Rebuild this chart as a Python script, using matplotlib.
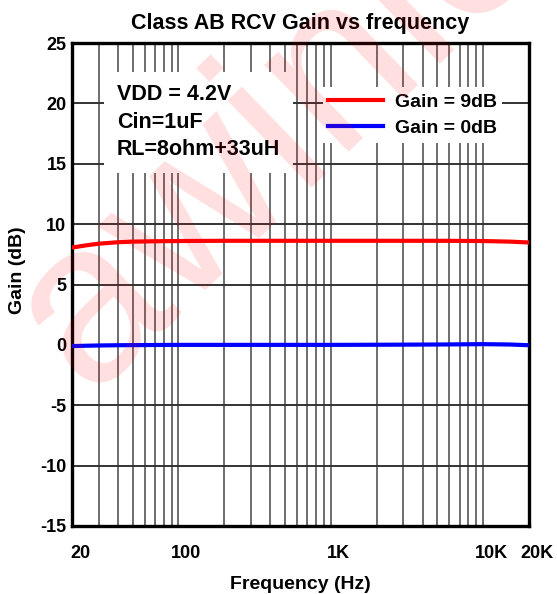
import numpy as np
import matplotlib
matplotlib.use("Agg")
from matplotlib import pyplot as plt
from matplotlib import transforms
from matplotlib.ticker import FixedLocator, LogLocator, NullFormatter

# Data
freq_hz = [20, 25, 30, 40, 50, 70, 100, 200, 500, 1000, 2000, 5000, 10000, 15000, 20000]
gain_9db = [8.06, 8.25, 8.38, 8.50, 8.55, 8.58, 8.60, 8.62, 8.62, 8.62, 8.62, 8.62, 8.60, 8.55, 8.48]
gain_0db = [-0.10, -0.07, -0.05, -0.03, -0.02, -0.01, 0.0, 0.0, 0.0, 0.0, 0.01, 0.03, 0.06, 0.03, -0.03]
x_ticks = [20, 100, 1000, 10000, 20000]
x_tick_labels = ['20', '100', '1K', '10K', '20K']
y_ticks = [-15, -10, -5, 0, 5, 10, 15, 20, 25]
series_labels = ['Gain = 9dB', 'Gain = 0dB']
conditions = "VDD = 4.2V\nCin=1uF\nRL=8ohm+33uH"

plt.rcParams['font.family'] = ['Liberation Sans', 'DejaVu Sans']
plt.rcParams['font.weight'] = 'bold'
plt.rcParams['axes.unicode_minus'] = False

fig = plt.figure(figsize=(5.57, 5.94), dpi=100)
ax = fig.add_axes([72 / 557, 1 - 526 / 594, 457 / 557, 483 / 594])

ax.plot(freq_hz, gain_9db, color='#ff0000', lw=3, label=series_labels[0], zorder=3)
ax.plot(freq_hz, gain_0db, color='#0000ff', lw=3, label=series_labels[1], zorder=3)

ax.set_xscale('log')
ax.set_xlim(20, 20000)
ax.set_ylim(-15, 25)
ax.xaxis.set_major_locator(FixedLocator(x_ticks))
ax.set_xticklabels(x_tick_labels)
ax.xaxis.set_minor_locator(LogLocator(base=10, subs=np.arange(2, 10)))
ax.xaxis.set_minor_formatter(NullFormatter())
ax.set_yticks(y_ticks)

# Grid: every decade line, every 5 dB
ax.grid(True, which='major', axis='y', color='#333333', lw=1.4, zorder=1)
ax.grid(True, which='both', axis='x', color='#555555', lw=1.2, zorder=1)
ax.set_axisbelow(True)
ax.tick_params(which='both', length=0)
ax.tick_params(axis='y', labelsize=13, pad=4)
ax.tick_params(axis='x', labelsize=13, pad=14)
# labels sit a bit right of their grid lines in the reference
shift = transforms.ScaledTranslation(8 / 100, 0, fig.dpi_scale_trans)
for lbl in ax.get_xticklabels():
    lbl.set_transform(lbl.get_transform() + shift)
for lbl in ax.get_xticklabels() + ax.get_yticklabels():
    lbl.set_fontweight('bold')

for sp in ax.spines.values():
    sp.set_linewidth(2.4)
    sp.set_color('black')

ax.set_title('Class AB RCV Gain vs frequency', fontsize=15.5, fontweight='bold', pad=10)
ax.set_xlabel('Frequency (Hz)', fontsize=14, fontweight='bold', labelpad=10)
ax.set_ylabel('Gain (dB)', fontsize=14, fontweight='bold')
ax.yaxis.set_label_coords(-0.10, 0.53)

# Test conditions box
ax.text(0.098, 0.915, conditions, transform=ax.transAxes, fontsize=15.5,
        fontweight='bold', va='top', ha='left', linespacing=1.42, zorder=4,
        bbox=dict(facecolor='white', edgecolor='none', pad=9))

leg = ax.legend(loc='upper right', bbox_to_anchor=(0.963, 0.928), fontsize=14,
                frameon=True, framealpha=1, facecolor='white', edgecolor='none',
                handlelength=2.8, handletextpad=0.6, borderpad=0.3,
                labelspacing=0.45, fancybox=False)
leg.set_zorder(4)
for t in leg.get_texts():
    t.set_fontweight('bold')

# Watermark
fig.text(0.494, 0.781, 'awinic', rotation=44, fontsize=165, color='#ff0000',
         alpha=0.13, ha='center', va='center', fontweight='normal',
         rotation_mode='anchor', zorder=10)

fig.savefig('out.png', dpi=100)
